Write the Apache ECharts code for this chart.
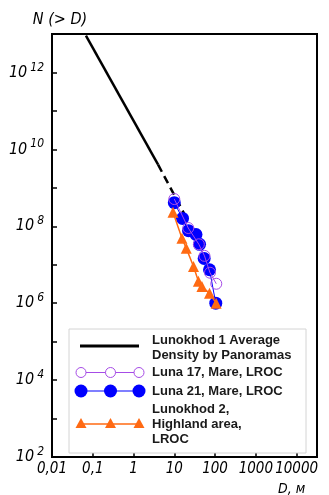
<!DOCTYPE html>
<html>
<head>
<meta charset="utf-8">
<script src="https://cdn.jsdelivr.net/npm/echarts@6/dist/echarts.min.js"></script>
<style>
  html, body { margin: 0; padding: 0; background: #fff; }
  #chart { width: 329px; height: 495px; }
</style>
</head>
<body>
<div id="chart"></div>
<script>
// Lunokhod 1 average density (solid part and dashed extrapolation)
var lunokhod1Solid = [[0.068, 9.1e12], [4.0, 4.0e9]];
var lunokhod1Dash = [[4.0, 4.0e9], [18.5, 1.9e8]];
// Luna 17, Mare, LROC (open circles)
var luna17 = [[10, 5.1e8], [22, 9.0e7], [40, 3.4e7], [55, 1.7e7], [75, 6.2e6], [107, 3.2e6]];
// Luna 21, Mare, LROC (filled circles)
var luna21 = [[10, 4.1e8], [15.9, 1.6e8], [22.3, 7.7e7], [34, 6.1e7], [41.6, 3.4e7], [54, 1.45e7], [73, 7.4e6], [104, 1.0e6]];
// Lunokhod 2, Highland area, LROC (triangles)
var lunokhod2 = [[9.3, 2.3e8], [15.4, 4.9e7], [19.6, 2.7e7], [29.6, 9.0e6], [39, 3.7e6], [47.6, 2.7e6], [73, 1.8e6], [106, 1.0e6]];

var legendNames = ['Lunokhod 1 Average\nDensity by Panoramas', 'Luna 17, Mare, LROC', 'Luna 21, Mare, LROC', 'Lunokhod 2,\nHighland area,\nLROC'];
var xLabels = { '-2': '0,01', '-1': '0,1', '0': '1', '1': '10', '2': '100', '3': '1000', '4': '10000' };

var C_PURPLE = '#a64ce6', C_BLUE = '#0000ff', C_ORANGE = '#ff6a13';
var italicFont = "'Liberation Sans Narrow', 'DejaVu Sans Condensed', 'DejaVu Sans', sans-serif";

function isPow(v) {
    var l = Math.log10(v);
    return Math.abs(l - Math.round(l)) < 1e-6;
}

// legend drawn by hand (box, sample lines, markers, text)
var lg = { x: 69, y: 329, w: 237, h: 124, x0: 80, x1: 139, tx: 152 };
function legendGraphics() {
    var g = [];
    g.push({ type: 'rect', shape: { x: lg.x, y: lg.y, width: lg.w, height: lg.h }, style: { fill: '#fff', stroke: '#d4d4d4', lineWidth: 1 }, z: 50 });
    var rows = [
        { y: 346, color: '#000', width: 3, mark: null },
        { y: 372.5, color: C_PURPLE, width: 1, mark: 'open' },
        { y: 391, color: C_BLUE, width: 1.2, mark: 'dot' },
        { y: 424, color: C_ORANGE, width: 1.5, mark: 'tri' }
    ];
    var xs = [lg.x0 + 1, (lg.x0 + lg.x1) / 2 + 1, lg.x1];
    rows.forEach(function (r) {
        g.push({ type: 'line', shape: { x1: lg.x0, y1: r.y, x2: lg.x1, y2: r.y }, style: { stroke: r.color, lineWidth: r.width }, z: 51 });
        xs.forEach(function (cx) {
            if (r.mark === 'open')
                g.push({ type: 'circle', shape: { cx: cx, cy: r.y, r: 5 }, style: { fill: '#fff', stroke: r.color, lineWidth: 1 }, z: 52 });
            else if (r.mark === 'dot')
                g.push({ type: 'circle', shape: { cx: cx, cy: r.y, r: 6.5 }, style: { fill: r.color }, z: 52 });
            else if (r.mark === 'tri')
                g.push({ type: 'polygon', shape: { points: [[cx, r.y - 6], [cx - 5.5, r.y + 4], [cx + 5.5, r.y + 4]] }, style: { fill: r.color }, z: 52 });
        });
    });
    var tys = [333, 365, 384, 402];
    legendNames.forEach(function (name, i) {
        g.push({ type: 'text', x: lg.tx, y: tys[i], style: { text: name, font: "bold 13px 'Liberation Sans', Arial, sans-serif", fill: '#1a1a1a', lineHeight: 15 }, z: 53 });
    });
    return g;
}

var chart = echarts.init(document.getElementById('chart'));
var option = {
    animation: false,
    grid: { left: 52, right: 12, top: 34, bottom: 38, show: true, borderColor: '#000', borderWidth: 2 },
    xAxis: {
        type: 'log',
        logBase: 10,
        min: 0.01,
        max: 31622.7766,
        interval: 1,
        axisLine: { show: true, lineStyle: { color: '#000', width: 2 } },
        axisTick: { show: true, inside: true, length: 5, lineStyle: { color: '#000', width: 1.5 } },
        splitLine: { show: false },
        axisLabel: {
            margin: 5,
            color: '#000',
            fontStyle: 'italic',
            fontFamily: italicFont,
            fontSize: 15,
            showMaxLabel: true,
            formatter: function (v) {
                if (!isPow(v)) return '';
                return xLabels[String(Math.round(Math.log10(v)))] || '';
            }
        }
    },
    yAxis: {
        type: 'log',
        logBase: 10,
        min: 100,
        max: 1e13,
        interval: 1,
        name: 'N (> D)',
        nameLocation: 'end',
        nameGap: 6,
        nameTextStyle: { color: '#000', fontStyle: 'italic', fontFamily: italicFont, fontSize: 16, align: 'center', padding: [0, 0, 0, 16] },
        axisLine: { show: true, lineStyle: { color: '#000', width: 2 } },
        axisTick: { show: true, inside: true, length: 5, lineStyle: { color: '#000', width: 1.5 } },
        splitLine: { show: false },
        axisLabel: {
            margin: 8,
            color: '#000',
            formatter: function (v) {
                if (!isPow(v)) return '';
                var e = Math.round(Math.log10(v));
                if (e % 2 !== 0 || e > 12) return '';
                return '{b|10}{s|' + e + '}';
            },
            rich: {
                b: { fontStyle: 'italic', fontFamily: italicFont, fontSize: 16, color: '#000' },
                s: { fontStyle: 'italic', fontFamily: italicFont, fontSize: 12, color: '#000', padding: [0, 0, 10, 3] }
            }
        }
    },
    series: [
        {
            name: 'Lunokhod 1',
            type: 'line',
            data: lunokhod1Solid,
            showSymbol: false,
            symbol: 'none',
            lineStyle: { color: '#000', width: 2.5 },
            z: 2
        },
        {
            name: 'Lunokhod 1 extrapolated',
            type: 'line',
            data: lunokhod1Dash,
            showSymbol: false,
            symbol: 'none',
            lineStyle: { color: '#000', width: 2.5, type: [8, 5] },
            z: 2
        },
        {
            name: 'Luna 21, Mare, LROC',
            type: 'line',
            data: luna21,
            symbol: 'circle',
            symbolSize: 13,
            itemStyle: { color: C_BLUE },
            lineStyle: { color: C_BLUE, width: 1 },
            z: 3
        },
        {
            name: 'Luna 17, Mare, LROC',
            type: 'line',
            data: luna17,
            symbol: 'circle',
            symbolSize: 11,
            itemStyle: { color: 'rgba(255,255,255,0)', borderColor: C_PURPLE, borderWidth: 1 },
            lineStyle: { color: C_PURPLE, width: 1 },
            z: 4
        },
        {
            name: 'Lunokhod 2, Highland area, LROC',
            type: 'line',
            data: lunokhod2,
            symbol: 'triangle',
            symbolSize: 11,
            itemStyle: { color: C_ORANGE },
            lineStyle: { color: C_ORANGE, width: 1.5 },
            z: 5
        }
    ],
    graphic: legendGraphics().concat([
        { type: 'text', x: 278, y: 482, style: { text: 'D, м', font: "italic 14px " + italicFont, fill: '#000' }, z: 60 }
    ])
};
chart.setOption(option);
</script>
</body>
</html>
